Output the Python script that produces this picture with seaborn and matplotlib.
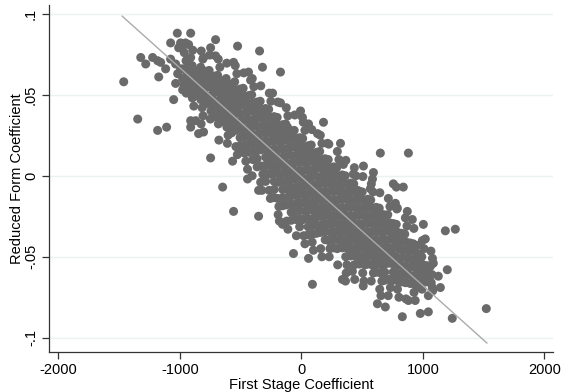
import matplotlib
matplotlib.use("Agg")
import matplotlib.pyplot as plt
import seaborn as sns
import pandas as pd

# ---- data ----
# isolated / edge points: (first stage coefficient, reduced form coefficient)
edge_points = [
    (-1463, 0.058), (-1348, 0.035), (-1184, 0.028), (-1110, 0.030),
    (-1323, 0.073), (-1225, 0.073), (-1282, 0.069), (-1184, 0.071),
    (-1159, 0.070), (-1077, 0.072), (-1118, 0.066), (-1175, 0.061),
    (-1022, 0.088), (-912, 0.088), (-1077, 0.082), (-995, 0.082),
    (-954, 0.082), (-929, 0.081), (-1011, 0.079), (-978, 0.080),
    (-707, 0.084), (-748, 0.079), (-1036, 0.069), (-995, 0.066),
    (-1019, 0.063), (-978, 0.060), (-1036, 0.057), (-937, 0.063),
    (-912, 0.073), (-978, 0.053), (-912, 0.051), (-1052, 0.047),
    (-912, 0.034), (-871, 0.034), (-912, 0.030), (-847, 0.026),
    (-806, 0.027), (-526, 0.080), (-345, 0.077), (-321, 0.067),
    (-173, 0.064), (-436, 0.064), (-707, 0.074), (-806, 0.073),
    (-748, 0.011), (-649, -0.007), (-559, -0.022), (-353, -0.025),
    (-444, 0.004), (-444, -0.002), (-501, 0.016), (-567, 0.009),
    (-353, -0.009), (-156, -0.030), (-66, -0.048), (58, -0.051),
    (90, -0.067), (337, -0.064), (362, -0.065), (419, -0.059),
    (625, -0.079), (690, -0.081), (830, -0.087), (880, -0.077),
    (978, -0.085), (1044, -0.084), (1241, -0.088), (1521, -0.082),
    (1143, -0.069), (1077, -0.069), (1044, -0.074), (1126, -0.062),
    (1200, -0.058), (1085, -0.054), (954, -0.043), (1019, -0.039),
    (1184, -0.034), (1266, -0.033), (1003, -0.030), (912, -0.027),
    (649, 0.014), (880, 0.014), (510, 0.006), (592, 0.002),
    (584, -0.002), (756, -0.005), (781, -0.007), (838, -0.007),
    (567, -0.008), (773, -0.017), (789, -0.020), (871, -0.022),
    (674, -0.024), (551, -0.017), (181, 0.033), (132, 0.026),
    (214, 0.020), (321, 0.020), (345, 0.007), (427, 0.001),
    (460, -0.009), (-8, 0.040), (-115, 0.030), (-90, 0.025),
    (8, 0.036), (58, 0.032), (-559, 0.070), (-419, 0.059),
    (-238, 0.051), (-173, 0.045),
]

# the band of points (columns across the band)
core_points = [
    (-965, .076), (-950, .071), (-972, .066), (-955, .061), (-968, .056), (-948, .051),
    (-895, .0775), (-900, .068), (-885, .063), (-892, .058), (-878, .053), (-898, .048), (-886, .043),
    (-825, .077), (-812, .072), (-830, .067), (-815, .062), (-822, .057), (-808, .052), (-828, .047), (-818, .042), (-810, .037), (-826, .032),
    (-755, .0745), (-760, .065), (-748, .060), (-752, .055), (-738, .050), (-758, .045), (-745, .040), (-750, .035),
    (-685, .072), (-672, .067), (-690, .062), (-676, .057), (-682, .052), (-670, .047), (-688, .042), (-678, .037), (-684, .032), (-680, .022),
    (-615, .0695), (-620, .060), (-606, .055), (-612, .050), (-600, .045), (-618, .040), (-608, .035), (-614, .030), (-604, .025), (-610, .020),
    (-545, .068), (-532, .063), (-550, .058), (-536, .053), (-542, .048), (-530, .043), (-548, .038), (-538, .033), (-544, .028), (-540, .018), (-528, .013),
    (-475, .0635), (-480, .054), (-466, .049), (-472, .044), (-460, .039), (-478, .034), (-468, .029), (-474, .024), (-464, .019), (-470, .014), (-458, .009),
    (-405, .060), (-392, .055), (-410, .050), (-396, .045), (-402, .040), (-390, .035), (-408, .030), (-398, .025), (-404, .020), (-394, .015), (-400, .010), (-406, .000),
    (-335, .0555), (-340, .046), (-326, .041), (-332, .036), (-320, .031), (-338, .026), (-328, .021), (-334, .016), (-330, .006), (-318, .001), (-336, -.004), (-326, -.009),
    (-265, .051), (-252, .046), (-270, .041), (-256, .036), (-262, .031), (-250, .026), (-268, .021), (-258, .016), (-264, .011), (-254, .006), (-260, .001), (-266, -.009), (-256, -.014),
    (-195, .0455), (-200, .036), (-186, .031), (-192, .026), (-180, .021), (-198, .016), (-188, .011), (-194, .006), (-184, .001), (-190, -.004), (-196, -.014), (-186, -.019), (-192, -.024), (-182, -.028),
    (-125, .042), (-112, .037), (-130, .032), (-116, .027), (-122, .022), (-110, .017), (-128, .012), (-118, .007), (-124, .002), (-114, -.003), (-120, -.008), (-108, -.013), (-126, -.018), (-122, -.028), (-112, -.033),
    (-55, .0375), (-60, .028), (-46, .023), (-52, .018), (-40, .013), (-58, .008), (-48, .003), (-54, -.002), (-44, -.007), (-50, -.012), (-38, -.017), (-56, -.022), (-46, -.027), (-42, -.037),
    (15, .033), (28, .028), (10, .023), (24, .018), (18, .013), (30, .008), (12, .003), (22, -.002), (16, -.007), (26, -.012), (20, -.017), (32, -.022), (14, -.027), (18, -.037), (28, -.042),
    (85, .0285), (80, .019), (94, .014), (88, .009), (100, .004), (82, -.001), (92, -.006), (86, -.011), (96, -.016), (90, -.021), (102, -.026), (84, -.031), (94, -.036), (88, -.041), (98, -.046),
    (155, .025), (168, .020), (150, .015), (164, .010), (158, .005), (170, .000), (152, -.005), (162, -.010), (156, -.015), (166, -.020), (160, -.025), (172, -.030), (154, -.035), (158, -.045), (168, -.050),
    (225, .0195), (220, .010), (234, .005), (228, .000), (240, -.005), (222, -.010), (232, -.015), (226, -.020), (236, -.025), (230, -.030), (242, -.035), (224, -.040), (234, -.045), (228, -.050),
    (295, .015), (308, .010), (290, .005), (304, .000), (298, -.005), (310, -.010), (292, -.015), (302, -.020), (296, -.025), (306, -.030), (300, -.035), (312, -.040), (294, -.045), (298, -.055),
    (365, .0095), (360, .000), (374, -.005), (368, -.010), (380, -.015), (362, -.020), (372, -.025), (366, -.030), (376, -.035), (370, -.040), (382, -.045), (364, -.050), (374, -.055), (368, -.060),
    (435, .005), (448, .000), (430, -.005), (444, -.010), (438, -.015), (450, -.020), (432, -.025), (442, -.030), (436, -.035), (446, -.040), (440, -.045), (452, -.050), (434, -.055), (438, -.064),
    (505, -.0005), (500, -.010), (514, -.015), (508, -.020), (520, -.025), (502, -.030), (512, -.035), (506, -.040), (516, -.045), (510, -.050), (522, -.055), (504, -.060), (514, -.065), (508, -.068),
    (575, -.005), (588, -.010), (570, -.015), (584, -.020), (578, -.025), (590, -.030), (572, -.035), (582, -.040), (576, -.045), (586, -.050), (580, -.055), (592, -.060), (574, -.065),
    (645, -.0105), (640, -.020), (654, -.025), (648, -.030), (660, -.035), (642, -.040), (652, -.045), (646, -.050), (656, -.055), (650, -.060), (662, -.065), (644, -.070), (654, -.074),
    (715, -.014), (728, -.019), (710, -.024), (724, -.029), (718, -.034), (730, -.039), (712, -.044), (722, -.049), (716, -.054), (720, -.064), (732, -.069), (714, -.074),
    (785, -.0205), (780, -.030), (794, -.035), (788, -.040), (800, -.045), (782, -.050), (792, -.055), (786, -.060), (796, -.065), (790, -.070), (802, -.075),
    (855, -.026), (868, -.031), (850, -.036), (864, -.041), (858, -.046), (870, -.051), (852, -.056), (862, -.061), (856, -.066), (860, -.076),
    (925, -.0325), (920, -.042), (934, -.047), (928, -.052), (940, -.057), (922, -.062), (932, -.067), (926, -.072), (936, -.077),
    (995, -.040), (1008, -.045), (990, -.050), (1004, -.055), (998, -.060), (1010, -.065), (992, -.070),
    (1065, -.0465), (1078, -.051), (1060, -.056), (1074, -.061), (1068, -.066), (1080, -.071),
]

# interior points of the solid middle of the band, between the columns above
interior_columns = [
    (-925, [.0685, .0635, .0585, .0535]),
    (-855, [.0645, .0595, .0545, .0495]),
    (-785, [.0645, .0595, .0545, .0495, .0445]),
    (-715, [.0615, .0565, .0515, .0465, .0415, .0365]),
    (-645, [.0585, .0535, .0485, .0435, .0385, .0335]),
    (-575, [.0565, .0515, .0465, .0415, .0365, .0315, .0265]),
    (-505, [.0535, .0485, .0435, .0385, .0335, .0285, .0235, .0185]),
    (-435, [.0495, .0445, .0395, .0345, .0295, .0245, .0195, .0145]),
    (-365, [.0455, .0405, .0355, .0305, .0255, .0205, .0155, .0105, .0055]),
    (-295, [.0415, .0365, .0315, .0265, .0215, .0165, .0115, .0065, .0015, -.0035]),
    (-225, [.0365, .0315, .0265, .0215, .0165, .0115, .0065, .0015, -.0035, -.0085, -.0135]),
    (-155, [.0315, .0265, .0215, .0165, .0115, .0065, .0015, -.0035, -.0085, -.0135, -.0185]),
    (-85, [.0275, .0225, .0175, .0125, .0075, .0025, -.0025, -.0075, -.0125, -.0175, -.0225, -.0275]),
    (-15, [.0235, .0185, .0135, .0085, .0035, -.0015, -.0065, -.0115, -.0165, -.0215, -.0265, -.0315]),
    (55, [.0185, .0135, .0085, .0035, -.0015, -.0065, -.0115, -.0165, -.0215, -.0265, -.0315, -.0365]),
    (125, [.0145, .0095, .0045, -.0005, -.0055, -.0105, -.0155, -.0205, -.0255, -.0305, -.0355]),
    (195, [.0105, .0055, .0005, -.0045, -.0095, -.0145, -.0195, -.0245, -.0295, -.0345, -.0395]),
    (265, [.0055, .0005, -.0045, -.0095, -.0145, -.0195, -.0245, -.0295, -.0345, -.0395, -.0445]),
    (335, [.0005, -.0045, -.0095, -.0145, -.0195, -.0245, -.0295, -.0345, -.0395, -.0445]),
    (405, [-.0045, -.0095, -.0145, -.0195, -.0245, -.0295, -.0345, -.0395, -.0445, -.0495]),
    (475, [-.0095, -.0145, -.0195, -.0245, -.0295, -.0345, -.0395, -.0445, -.0495, -.0545]),
    (545, [-.0145, -.0195, -.0245, -.0295, -.0345, -.0395, -.0445, -.0495, -.0545]),
    (615, [-.0195, -.0245, -.0295, -.0345, -.0395, -.0445, -.0495, -.0545, -.0595]),
    (685, [-.0245, -.0295, -.0345, -.0395, -.0445, -.0495, -.0545, -.0595, -.0645]),
    (755, [-.0295, -.0345, -.0395, -.0445, -.0495, -.0545, -.0595, -.0645]),
    (825, [-.0355, -.0405, -.0455, -.0505, -.0555, -.0605, -.0655]),
    (895, [-.0415, -.0465, -.0515, -.0565, -.0615, -.0665]),
    (965, [-.0485, -.0535, -.0585, -.0635, -.0685]),
    (1035, [-.0555, -.0605, -.0655]),
]

# fitted line as drawn in the picture (end points)
fit_x = [-1477, 1527]
fit_y = [0.0986, -0.1033]

x_ticks = [-2000, -1000, 0, 1000, 2000]
x_tick_labels = ["-2000", "-1000", "0", "1000", "2000"]
y_ticks = [-0.1, -0.05, 0, 0.05, 0.1]
y_tick_labels = ["-.1", "-.05", "0", ".05", ".1"]

interior_points = [(cx, cy) for cx, ys in interior_columns for cy in ys]
df = pd.DataFrame(core_points + interior_points + edge_points,
                  columns=["first_stage", "reduced_form"])
fit_df = pd.DataFrame({"first_stage": fit_x, "reduced_form": fit_y})

sns.set_theme(style="white")
plt.rcParams["font.family"] = ["Liberation Sans", "DejaVu Sans"]

fig = plt.figure(figsize=(5.61, 3.92), dpi=100)
ax = fig.add_axes([49 / 561, 1 - 351.7 / 392, (553 - 49) / 561, (351.7 - 5) / 392])

for yt in y_ticks:
    ax.axhline(yt, color="#eaf2f3", lw=1.0, zorder=0)

sns.scatterplot(data=df, x="first_stage", y="reduced_form", ax=ax,
                color="#6a6a6a", s=42, edgecolor="none", linewidth=0,
                alpha=1.0, zorder=2)
sns.lineplot(data=fit_df, x="first_stage", y="reduced_form", ax=ax,
             color="#ababab", lw=1.0, zorder=3)

ax.set_xlim(-2078, 2070)
ax.set_ylim(-0.1086, 0.1054)
ax.set_xticks(x_ticks)
ax.set_xticklabels(x_tick_labels)
ax.set_yticks(y_ticks)
ax.set_yticklabels(y_tick_labels, rotation=90, va="center")
ax.tick_params(axis="both", direction="out", length=5, width=0.9,
               color="#333333", labelsize=10.5, labelcolor="black", pad=3)
ax.tick_params(axis="both", which="both", bottom=True, left=True)
for side in ["top", "right"]:
    ax.spines[side].set_visible(False)
for side in ["left", "bottom"]:
    ax.spines[side].set_color("#333333")
    ax.spines[side].set_linewidth(0.9)

ax.set_xlabel("First Stage Coefficient", fontsize=10.5, color="black", labelpad=1)
ax.set_ylabel("Reduced Form Coefficient", fontsize=10.5, color="black", labelpad=0)
ax.grid(False)

fig.savefig("out.png", dpi=100)
